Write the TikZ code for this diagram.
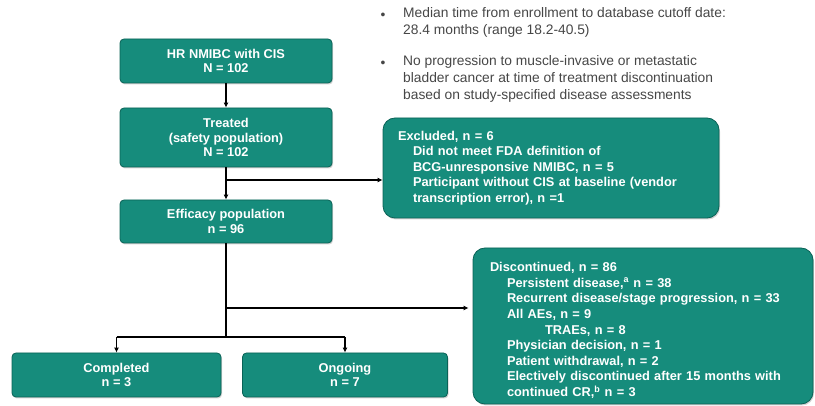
\documentclass[tikz,border=0pt]{standalone}
\usepackage{fontspec}
\setmainfont{Liberation Sans}
\usetikzlibrary{arrows.meta,shadows}
\definecolor{tealfill}{RGB}{22,140,124}
\definecolor{tealedge}{RGB}{10,98,86}
\definecolor{bodygray}{RGB}{70,70,70}
\tikzset{
  box/.style={draw=tealedge, line width=0.8pt, fill=tealfill, rounded corners=4pt,
    text=white, font=\fontsize{12.8}{14.5}\selectfont\bfseries, align=center,
    inner sep=2pt,
    drop shadow={opacity=0.35, shadow xshift=1pt, shadow yshift=-1.5pt}},
  bigbox/.style={box, rounded corners=12pt, align=left,
    font=\fontsize{12.8}{15.6}\selectfont\bfseries},
  conn/.style={line width=1.3pt, draw=black},
  arr/.style={conn, -{Latex[length=5pt,width=5pt]}},
  bullettext/.style={text=bodygray, font=\fontsize{13.8}{17}\selectfont, align=left,
    anchor=north west, inner sep=0pt},
}
\begin{document}
\begin{tikzpicture}[x=1pt,y=-1pt]
\useasboundingbox (0,0) rectangle (815,406);

% bullets
\node[bullettext, anchor=center] (d1) at (383,16) {•};
\node[bullettext, anchor=center] (d2) at (383,64) {•};
\node[bullettext] (t1) at (403,7) {Median time from enrollment to database cutoff date:\\28.4 months (range 18.2-40.5)};
\node[bullettext] (t2) at (403,55) {No progression to muscle-invasive or metastatic\\bladder cancer at time of treatment discontinuation\\based on study-specified disease assessments};

% main boxes
\node[box, minimum width=212pt, minimum height=44pt] (b1) at (226,61)
  {HR NMIBC with CIS\\N = 102};
\node[box, minimum width=212pt, minimum height=59pt] (b2) at (226,137.5)
  {Treated\\(safety population)\\N = 102};
\node[box, minimum width=212pt, minimum height=43pt] (b3) at (226,221.5)
  {Efficacy population\\n = 96};
\node[bigbox, minimum width=336pt, minimum height=100pt, inner xsep=15pt,
      text width=306pt] (ex) at (551,168)
  {Excluded, n = 6\\
   \hspace*{15pt}Did not meet FDA definition of\\
   \hspace*{15pt}BCG-unresponsive NMIBC, n = 5\\
   \hspace*{15pt}Participant without CIS at baseline (vendor\\
   \hspace*{15pt}transcription error), n =1};
\node[bigbox, minimum width=340pt, minimum height=156pt, inner xsep=17pt,
      text width=306pt] (dc) at (643,326)
  {\rule{0pt}{18pt}Discontinued, n = 86\\
   \hspace*{17pt}Persistent disease,\textsuperscript{a} n = 38\\
   \hspace*{17pt}Recurrent disease/stage progression, n = 33\\
   \hspace*{17pt}All AEs, n = 9\\
   \hspace*{55pt}TRAEs, n = 8\\
   \hspace*{17pt}Physician decision, n = 1\\
   \hspace*{17pt}Patient withdrawal, n = 2\\
   \hspace*{17pt}Electively discontinued after 15 months with\\
   \hspace*{17pt}continued CR,\textsuperscript{b} n = 3};
\node[box, minimum width=209pt, minimum height=44pt] (cp) at (116.5,375)
  {Completed\\n = 3};
\node[box, minimum width=205pt, minimum height=44pt] (og) at (345,375)
  {Ongoing\\n = 7};

% connectors
\coordinate (j1) at (226,180);
\coordinate (j2) at (226,308);
\coordinate (j3) at (226,337);
\coordinate (jl) at (cp.north |- j3);
\coordinate (jr) at (og.north |- j3);
\draw[arr] (b1.south) -- (b2.north);
\draw[arr] (b2.south) -- (b3.north);
\draw[arr] (j1) -- (j1 -| ex.west);
\draw[conn] (b3.south) -- (j3);
\draw[arr] (j2) -- ([xshift=-4pt]j2 -| dc.west);
\draw[conn] (jl) -- (jr);
\draw[arr] (jl) -- (cp.north);
\draw[arr] (jr) -- (og.north);
\end{tikzpicture}
\end{document}
